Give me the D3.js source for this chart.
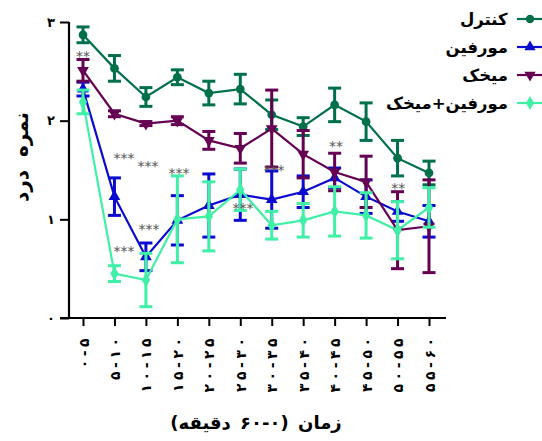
<!DOCTYPE html>
<html><head><meta charset="utf-8">
<script src="https://cdn.jsdelivr.net/npm/d3@7"></script>
<style>html,body{margin:0;padding:0;background:#fff;} svg{display:block;}</style>
</head><body><svg id="c" width="542" height="441"></svg>
<script>
const categories = ["۰-۵","۵-۱۰","۱۰-۱۵","۱۵-۲۰","۲۰-۲۵","۲۵-۳۰","۳۰-۳۵","۳۵-۴۰","۴۰-۴۵","۴۵-۵۰","۵۰-۵۵","۵۵-۶۰"];
const seriesNames = ["کنترل","مورفین","میخک","مورفین+میخک"];
const controlMean = [2.87, 2.53, 2.24, 2.44, 2.28, 2.32, 2.06, 1.94, 2.16, 1.99, 1.62, 1.47];
const controlErr  = [0.08, 0.13, 0.095, 0.075, 0.12, 0.15, 0.15, 0.09, 0.17, 0.19, 0.18, 0.12];
const morphineMean = [2.32, 1.23, 0.62, 0.99, 1.14, 1.25, 1.20, 1.28, 1.42, 1.23, 1.08, 0.98];
const morphineErr  = [0.07, 0.19, 0.14, 0.25, 0.32, 0.26, 0.29, 0.16, 0.10, 0.17, 0.10, 0.16];
const clovesMean = [2.51, 2.07, 1.97, 2.00, 1.80, 1.72, 1.92, 1.66, 1.48, 1.38, 0.89, 0.93];
const clovesErr  = [0.11, 0.03, 0.02, 0.04, 0.09, 0.15, 0.39, 0.24, 0.19, 0.26, 0.39, 0.47];
const comboMean = [2.19, 0.45, 0.385, 1.00, 1.03, 1.30, 0.94, 0.99, 1.08, 1.04, 0.89, 1.12];
const comboErr  = [0.12, 0.08, 0.27, 0.44, 0.35, 0.21, 0.14, 0.17, 0.25, 0.23, 0.29, 0.20];
const yTicks = [0, 1, 2, 3];
const yTickLabels = ["۰","۱","۲","۳"];
const annotIndex = [0, 1.30, 2.07, 3.05, 1.30, 2.10, 5.09, 6.07, 8.04, 10.02];
const annotValue = [2.686, 1.652, 1.571, 1.50, 0.709, 0.932, 1.145, 1.530, 1.774, 1.348];
const annotText  = ["**","***","***","***","***","***","***","***","**","**"];
const xTitle = "زمان (۰-۶۰ دقیقه)";
const yTitle = "نمره درد";

const colors = ["#00704a", "#0a0ad0", "#650052", "#3ff0a6"];
const shapes = [d3.symbolCircle, d3.symbolTriangle, "tdown", d3.symbolDiamond];
const series = [
  {mean: controlMean, err: controlErr},
  {mean: morphineMean, err: morphineErr},
  {mean: clovesMean, err: clovesErr},
  {mean: comboMean, err: comboErr}
];

const svg = d3.select("#c");
const font = "'DejaVu Sans', sans-serif";
const x = d3.scalePoint().domain(categories).range([83, 429]);
const xi = d3.scaleLinear().domain([0, categories.length - 1]).range([83, 429]);
const y = d3.scaleLinear().domain([0, 3]).range([318, 22]);

function markerPath(shape, size) {
  if (shape === "tdown") return d3.symbol().type(d3.symbolTriangle).size(size)();
  return d3.symbol().type(shape).size(size)();
}
// place text so that its local bbox is centred (cx) / right-aligned etc.
function alignText(sel, mode, target) {
  sel.each(function() {
    const b = this.getBBox();
    const cur = +this.getAttribute("x") || 0;
    let shift = 0;
    if (mode === "middle") shift = target - (b.x + b.width / 2);
    else if (mode === "end") shift = target - (b.x + b.width);
    this.setAttribute("x", cur + shift);
  });
}

// axes
const yAxis = d3.axisLeft(y).tickValues(yTicks).tickSize(9).tickFormat((d, i) => yTickLabels[i]);
const gy = svg.append("g").attr("transform", "translate(69,0)").call(yAxis);
gy.select(".domain").attr("stroke", "#000").attr("stroke-width", 2.2).attr("d", "M0,22V318");
gy.selectAll(".tick line").attr("stroke", "#000").attr("stroke-width", 2);
gy.selectAll(".tick text").attr("font-family", font).attr("font-size", 13).attr("font-weight", "bold").attr("fill", "#000").attr("x", -14);

const xAxis = d3.axisBottom(x).tickSize(8).tickSizeOuter(0)
  .tickFormat(d => d.split("").join("\u2005"));
const gx = svg.append("g").attr("transform", "translate(0,318)").call(xAxis);
gx.select(".domain").attr("stroke", "#000").attr("stroke-width", 2.2).attr("d", "M60,0H446");
gx.selectAll(".tick line").attr("stroke", "#000").attr("stroke-width", 2);
gx.selectAll(".tick text")
  .attr("font-family", font).attr("font-size", 14).attr("font-weight", "bold").attr("fill", "#000")
  .attr("text-anchor", "start").attr("dy", 0).attr("y", 0).attr("x", 0)
  .attr("transform", "translate(5,20) rotate(-90)");
alignText(gx.selectAll(".tick text"), "end", 0);

// series
series.forEach((s, k) => {
  const g = svg.append("g");
  const pts = categories.map((c, i) => ({c, m: s.mean[i], e: s.err[i]}));
  g.append("path").datum(pts)
    .attr("fill", "none").attr("stroke", colors[k]).attr("stroke-width", 2.2)
    .attr("d", d3.line().x(d => x(d.c)).y(d => y(d.m)));
  const eb = g.selectAll(".eb").data(pts).enter().append("g");
  eb.append("line").attr("x1", d => x(d.c)).attr("x2", d => x(d.c))
    .attr("y1", d => y(d.m - d.e)).attr("y2", d => y(d.m + d.e))
    .attr("stroke", colors[k]).attr("stroke-width", 3);
  [1, -1].forEach(sg => {
    eb.append("line").attr("x1", d => x(d.c) - 6.5).attr("x2", d => x(d.c) + 6.5)
      .attr("y1", d => y(d.m + sg * d.e)).attr("y2", d => y(d.m + sg * d.e))
      .attr("stroke", colors[k]).attr("stroke-width", 3);
  });
  g.selectAll(".mk").data(pts).enter().append("path")
    .attr("d", markerPath(shapes[k], 60))
    .attr("transform", d => `translate(${x(d.c)},${y(d.m)})` + (shapes[k] === "tdown" ? " rotate(180)" : ""))
    .attr("fill", colors[k]);
});

// annotations
svg.append("g").selectAll("text").data(annotText).enter().append("text")
  .attr("x", (d, i) => xi(annotIndex[i]))
  .attr("y", (d, i) => y(annotValue[i]) + 8)
  .attr("text-anchor", "middle")
  .attr("font-family", font).attr("font-size", 14).attr("fill", "#555")
  .text(d => d);

// legend
const lg = svg.append("g");
seriesNames.forEach((n, k) => {
  const ly = 19 + k * 28;
  lg.append("line").attr("x1", 517).attr("x2", 543).attr("y1", ly).attr("y2", ly)
    .attr("stroke", colors[k]).attr("stroke-width", 2.2);
  lg.append("path").attr("d", markerPath(shapes[k], 55))
    .attr("transform", `translate(530,${ly})` + (shapes[k] === "tdown" ? " rotate(180)" : ""))
    .attr("fill", colors[k]);
  const t = lg.append("text").attr("x", 0).attr("y", ly + 6)
    .attr("font-family", font).attr("font-size", 16.5).attr("font-weight", "bold").attr("fill", "#000")
    .text(n);
  alignText(t, "end", 508);
});

// titles
const xt = svg.append("text").attr("x", 0).attr("y", 429)
  .attr("font-family", font).attr("font-size", 18).attr("font-weight", "bold").attr("word-spacing", 3).text(xTitle);
alignText(xt, "middle", 256);
const yt = svg.append("text").attr("transform", "translate(28,0) rotate(-90)").attr("x", 0).attr("y", 0)
  .attr("font-family", font).attr("font-size", 20).attr("font-weight", "bold").attr("word-spacing", 6).text(yTitle);
alignText(yt, "middle", -157);
</script></body></html>
